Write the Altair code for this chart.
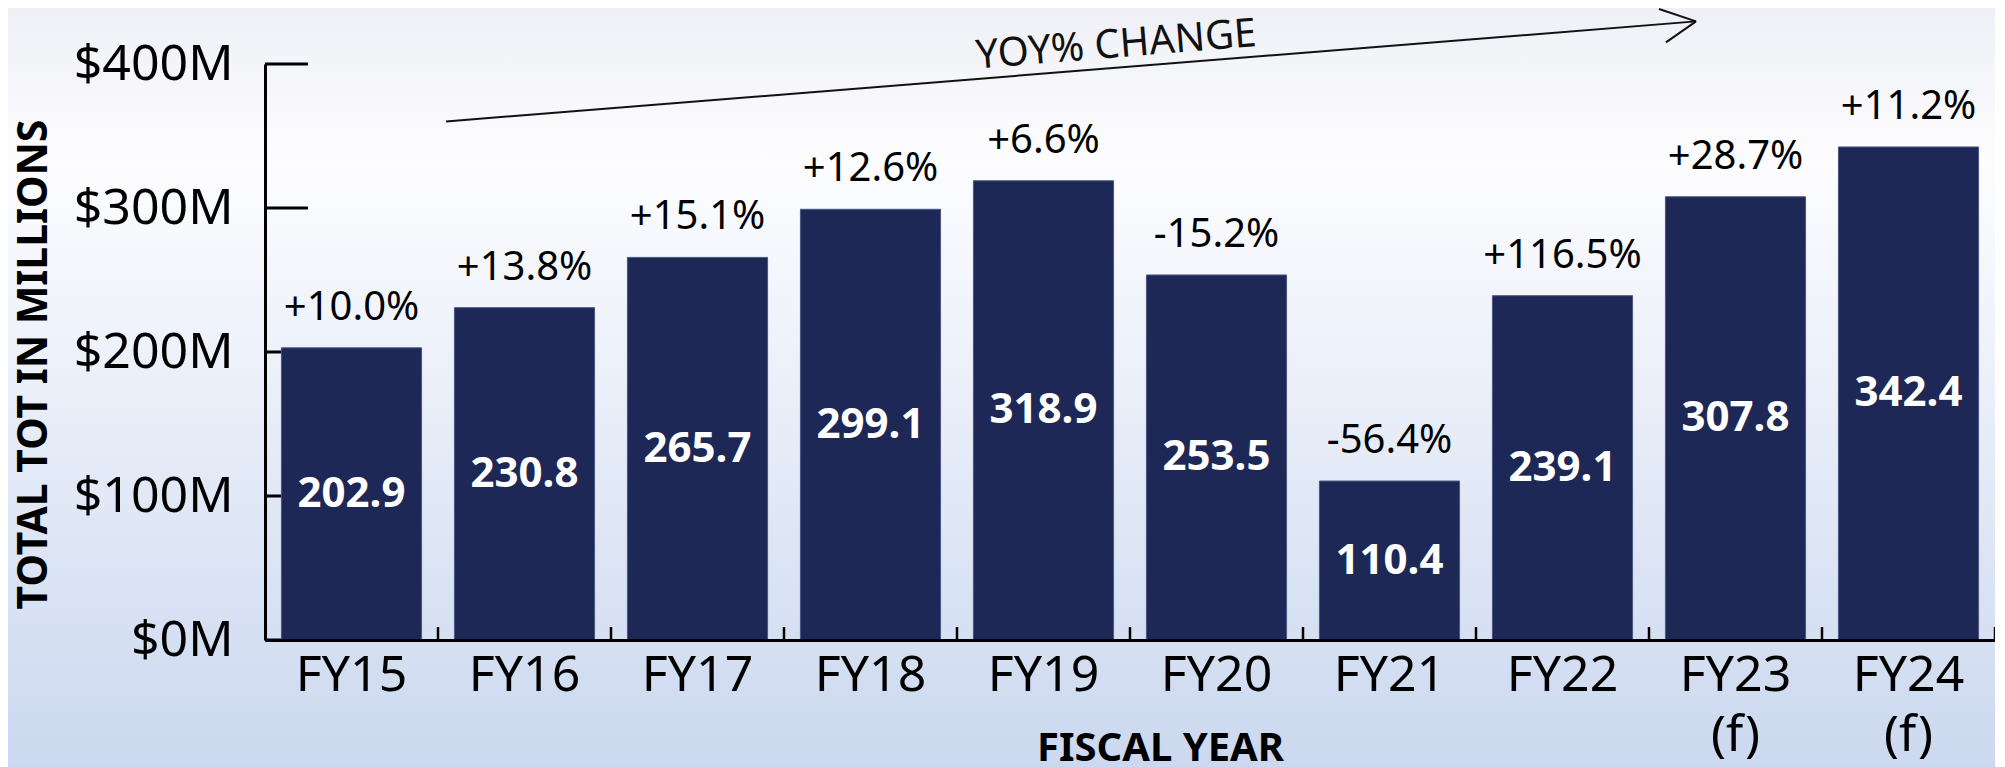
import altair as alt
import pandas as pd

# ---------------- data ----------------
years = ["FY15", "FY16", "FY17", "FY18", "FY19", "FY20", "FY21", "FY22", "FY23 (f)", "FY24 (f)"]
totals = [202.9, 230.8, 265.7, 299.1, 318.9, 253.5, 110.4, 239.1, 307.8, 342.4]
yoy = ["+10.0%", "+13.8%", "+15.1%", "+12.6%", "+6.6%", "-15.2%", "-56.4%", "+116.5%", "+28.7%", "+11.2%"]
y_ticks = [0, 100, 200, 300, 400]
x_bounds = [1, 2, 3, 4, 5, 6, 7, 8, 9, 10]

# annotation arrow (x in category-cell units, y in $M)
arrow_seg = ["line", "line", "head1", "head1", "head2", "head2"]
arrow_x = [1.046, 8.272, 8.058, 8.272, 8.098, 8.272]
arrow_y = [360.1, 429.6, 438.2, 429.6, 415.0, 429.6]
arrow_o = [0, 1, 0, 1, 0, 1]
arrow_label = ["YOY% CHANGE"]
arrow_label_x = [4.92]
arrow_label_y = [413]

# ---------------- layout ----------------
W, H = 1730, 576
PAD_L, PAD_T, PAD_B = 257, 56, 127
FONT = "Noto Sans"
BAR = "#1d2856"

df = pd.DataFrame({"year": years, "total": totals, "yoy": yoy})
df["mid"] = [v / 2 for v in totals]

yscale = alt.Scale(domain=[0, 400], nice=False)
yaxis = alt.Axis(
    values=y_ticks,
    labelExpr="'$' + datum.value + 'M'",
    tickSize=0,
    labelPadding=32,
    grid=False,
    domainColor="black",
    domainWidth=3,
    labelFontSize=50,
    labelColor="black",
    labelFont=FONT,
    title="TOTAL TOT IN MILLIONS",
    titleX=-231,
    titleY=300,
    titleAlign="center",
    titleBaseline="middle",
    titleAngle=270,
    titleFontSize=41,
    titleFontWeight="bold",
    titleFont=FONT,
    titleColor="black",
    zindex=1,
)
band = alt.Scale(paddingInner=0.19, paddingOuter=0.095)
ann = alt.Scale(domain=[0, 10], nice=False, zero=False)

xaxis = alt.Axis(
    title="FISCAL YEAR",
    labelExpr="split(datum.label, ' ')",
    labelAngle=0,
    tickSize=0,
    labelPadding=10,
    labelFontSize=50,
    labelLineHeight=60,
    labelFont=FONT,
    labelColor="black",
    domainColor="black",
    domainWidth=3,
    titleX=895,
    titleY=120,
    titleAlign="center",
    titleBaseline="alphabetic",
    titleFontSize=40,
    titleFontWeight="bold",
    titleFont=FONT,
    titleColor="black",
    zindex=1,
)

bg = alt.Chart(alt.Data(values=[{}])).mark_rect(
    color=alt.LinearGradient(
        gradient="linear",
        stops=[
            alt.GradientStop(color="#eff0f6", offset=0),
            alt.GradientStop(color="#fdfdff", offset=0.2),
            alt.GradientStop(color="#cbd8ef", offset=1),
        ],
        x1=0, x2=0, y1=0, y2=1,
    )
).encode(
    x=alt.value(-PAD_L), x2=alt.value(W), y=alt.value(-PAD_T), y2=alt.value(H + PAD_B)
)

yt = alt.Chart(pd.DataFrame({"v": y_ticks})).mark_rule(color="black", strokeWidth=3).encode(
    y=alt.Y("v:Q", scale=yscale, axis=yaxis),
    x=alt.value(0),
    x2=alt.value(43),
)

xt = alt.Chart(pd.DataFrame({"b": x_bounds})).mark_rule(color="black", strokeWidth=2.5).encode(
    x=alt.X("b:Q", scale=ann, axis=None),
    y=alt.value(H),
    y2=alt.value(H - 13),
)

bars = alt.Chart(df).mark_bar(color=BAR, stroke="#4a5784", strokeWidth=1).encode(
    x=alt.X("year:N", sort=years, scale=band, axis=xaxis),
    y=alt.Y("total:Q", scale=yscale, axis=yaxis),
)

vals = alt.Chart(df).mark_text(
    color="white", fontSize=42, fontWeight="bold", font=FONT, baseline="middle"
).encode(
    x=alt.X("year:N", sort=years, scale=band, axis=None),
    y=alt.Y("mid:Q", scale=yscale, axis=yaxis),
    text=alt.Text("total:Q", format=".1f"),
)

pcts = alt.Chart(df).mark_text(
    color="black", fontSize=40, font=FONT, baseline="alphabetic", dy=-28
).encode(
    x=alt.X("year:N", sort=years, scale=band, axis=None),
    y=alt.Y("total:Q", scale=yscale, axis=yaxis),
    text="yoy:N",
)

arrow = alt.Chart(
    pd.DataFrame({"seg": arrow_seg, "ax": arrow_x, "ay": arrow_y, "o": arrow_o})
).mark_line(color="#111111", strokeWidth=2).encode(
    x=alt.X("ax:Q", scale=ann, axis=None),
    y=alt.Y("ay:Q", scale=yscale, axis=yaxis),
    detail="seg:N",
    order="o:Q",
)

arrow_txt = alt.Chart(
    pd.DataFrame({"t": arrow_label, "tx": arrow_label_x, "ty": arrow_label_y})
).mark_text(color="#111111", fontSize=40, font=FONT, angle=355.4, baseline="middle").encode(
    x=alt.X("tx:Q", scale=ann, axis=None),
    y=alt.Y("ty:Q", scale=yscale, axis=yaxis),
    text="t:N",
)

chart = (
    alt.layer(bg, yt, xt, bars, vals, pcts, arrow, arrow_txt)
    .resolve_scale(x="independent")
    .properties(
        width=W,
        height=H,
        autosize=alt.AutoSizeParams(type="none"),
        padding={"left": PAD_L, "top": PAD_T, "right": 0, "bottom": PAD_B},
        background="#ffffff",
    )
    .configure_view(strokeWidth=0)
)

chart.save("out.html", embed_options={"renderer": "svg", "actions": False})
